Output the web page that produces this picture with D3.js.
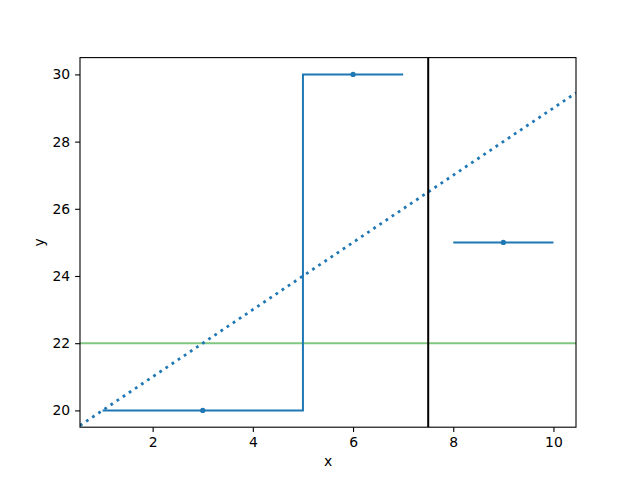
<!DOCTYPE html>
<html>
<head>
<meta charset="utf-8">
<script src="https://cdn.jsdelivr.net/npm/d3@7"></script>
<style>
  body { margin: 0; background: #fff; }
  .tick text { font-family: "DejaVu Sans", sans-serif; font-size: 13.9px; fill: #000; }
</style>
</head>
<body>
<div id="chart"></div>
<script>
// step segments: [x, y] corners
var stepA = [[1, 20], [5, 20], [5, 30], [7, 30]];
var stepB = [[8, 25], [10, 25]];
// marker points
var markX = [3, 6, 9];
var markY = [20, 30, 25];
// reference lines
var diagPoint = [3, 22], diagSlope = 1;
var vLineX = 7.5;
var hLineY = 22;
var xTicks = [2, 4, 6, 8, 10];
var yTicks = [20, 22, 24, 26, 28, 30];

var margin = {top: 57.6, right: 64, bottom: 52.8, left: 80},
    width = 640 - margin.left - margin.right,
    height = 480 - margin.top - margin.bottom;

var svg = d3.select("#chart").append("svg")
    .attr("width", 640)
    .attr("height", 480)
  .append("g")
    .attr("transform", "translate(" + margin.left + "," + margin.top + ")");

var x = d3.scaleLinear().domain([0.55, 10.45]).range([0, width]);
var y = d3.scaleLinear().domain([19.5, 30.5]).range([height, 0]);

svg.append("defs").append("clipPath").attr("id", "clip")
  .append("rect").attr("width", width).attr("height", height);

var plot = svg.append("g").attr("clip-path", "url(#clip)");

// green horizontal line
plot.append("line")
    .attr("x1", 0).attr("x2", width)
    .attr("y1", y(hLineY)).attr("y2", y(hLineY))
    .style("stroke", "#2ca02c").style("stroke-opacity", 0.6).style("stroke-width", 2);

// dotted infinite line
var xd = x.domain();
plot.append("line")
    .attr("x1", x(xd[0])).attr("y1", y(diagPoint[1] + diagSlope * (xd[0] - diagPoint[0])))
    .attr("x2", x(xd[1])).attr("y2", y(diagPoint[1] + diagSlope * (xd[1] - diagPoint[0])))
    .style("stroke", "#1f77b4").style("stroke-width", 2.78)
    .style("stroke-dasharray", "2.78,4.58");

// step lines
var line = d3.line().x(function (d) { return x(d[0]); }).y(function (d) { return y(d[1]); });
[stepA, stepB].forEach(function (s) {
  plot.append("path").datum(s)
      .attr("d", line)
      .style("fill", "none").style("stroke", "#1f77b4").style("stroke-width", 2);
});

plot.selectAll(".dot").data(markX).enter().append("circle")
    .attr("cx", function (d) { return x(d); })
    .attr("cy", function (d, i) { return y(markY[i]); })
    .attr("r", 2.6)
    .style("fill", "#1f77b4");

// black vertical line
plot.append("line")
    .attr("x1", x(vLineX)).attr("x2", x(vLineX))
    .attr("y1", 0).attr("y2", height)
    .style("stroke", "#000").style("stroke-width", 2);

// axes
var xAxis = svg.append("g")
    .attr("transform", "translate(0," + height + ")")
    .call(d3.axisBottom(x).tickValues(xTicks).tickSizeOuter(0).tickSize(4.9).tickPadding(4.9).tickFormat(d3.format("d")));
var yAxis = svg.append("g")
    .call(d3.axisLeft(y).tickValues(yTicks).tickSizeOuter(0).tickSize(4.9).tickPadding(4.9).tickFormat(d3.format("d")));
[xAxis, yAxis].forEach(function (a) {
  a.select(".domain").remove();
  a.selectAll(".tick line").style("stroke", "#000").style("stroke-width", 1.1);
});

// frame
svg.append("rect")
    .attr("width", width).attr("height", height)
    .style("fill", "none").style("stroke", "#000").style("stroke-width", 1.1);

// axis labels
svg.append("text")
    .attr("x", width / 2).attr("y", height + 39)
    .attr("text-anchor", "middle")
    .style("font-family", "DejaVu Sans, sans-serif").style("font-size", "13.9px")
    .text("x");
svg.append("text")
    .attr("transform", "translate(" + (-36) + "," + (height / 2) + ") rotate(-90)")
    .attr("text-anchor", "middle")
    .style("font-family", "DejaVu Sans, sans-serif").style("font-size", "13.9px")
    .text("y");
</script>
</body>
</html>
